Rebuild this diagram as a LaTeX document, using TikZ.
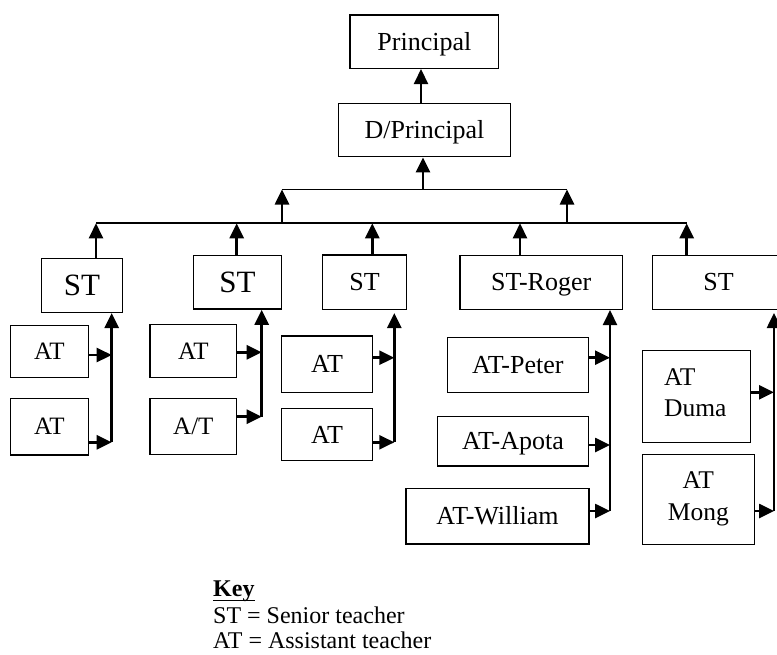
\documentclass[tikz,border=0pt]{standalone}
\usepackage{fontspec}
\setmainfont{Liberation Serif}
\usetikzlibrary{arrows.meta}

\tikzset{
  box/.style={draw, line width=1.5pt, inner sep=0pt, align=center},
  f26/.style={font=\fontsize{26}{31}\selectfont, text height=17pt, text depth=0pt},
  f25/.style={font=\fontsize{25}{30}\selectfont, text height=16.4pt, text depth=0pt},
  f31/.style={font=\fontsize{31}{37}\selectfont, text height=20.3pt, text depth=0pt},
  twoline/.style={inner sep=0pt, font=\fontsize{25.5}{31.7}\selectfont},
  keytxt/.style={inner sep=0pt, anchor=base west, font=\fontsize{24}{28}\selectfont},
  arr/.style={line width=2.6pt, -{Triangle[length=15pt,width=14pt]}},
  hbar/.style={line width=1.8pt},
}

\begin{document}
\begin{tikzpicture}[x=1pt,y=-1pt]
\clip (0,0) rectangle (777,654);

% head of school
\node[box,f26,minimum width=148.7,minimum height=53.3] (p)  at (424.35,41.65) {Principal};
\node[box,f26,minimum width=172.4,minimum height=53.4] (dp) at (424.5,130) {D/Principal};

% senior teachers
\node[box,f31,minimum width=80.6,minimum height=54]   (st1) at (82,285.3)     {ST};
\node[box,f31,minimum width=88.2,minimum height=53.3] (st2) at (237.4,282.35) {ST};
\node[box,f26,minimum width=84.4,minimum height=54.3] (st3) at (364.5,282.15) {ST};
\node[box,f26,minimum width=162.3,minimum height=54]  (st4) at (541.15,282.3) {ST-Roger};
\node[box,f26,minimum width=132.7,minimum height=54]  (st5) at (718.65,282.3) {ST};

% assistant teachers
\node[box,f25,minimum width=78,minimum height=51.6]   (a11) at (49.3,351.5)   {AT};
\node[box,f25,minimum width=78,minimum height=56.7]   (a12) at (49.3,426.65)  {AT};
\node[box,f25,minimum width=86.7,minimum height=53]   (a21) at (193.35,350.8) {AT};
\node[box,f25,minimum width=86.7,minimum height=56]   (a22) at (193.35,426.3) {A/T};
\node[box,f26,minimum width=90.6,minimum height=56.3] (a31) at (327,364.15)   {AT};
\node[box,f26,minimum width=90.6,minimum height=52.4] (a32) at (327,434.5)    {AT};
\node[box,f26,minimum width=141,minimum height=55]    (a41) at (517.8,364.8)  {AT-Peter};
\node[box,f26,minimum width=150.6,minimum height=49.3](a42) at (513,441.35)   {AT-Apota};
\node[box,f26,minimum width=183,minimum height=55.7]  (a43) at (497.5,516.15) {AT-William};
\node[box,minimum width=108.4,minimum height=91.6]    (a51) at (696.5,396.5)  {};
\node[twoline,anchor=north west,align=left] (a51t) at (664,368.2) {AT\\Duma};
\node[box,minimum width=112,minimum height=90]        (a52) at (698.3,499.3)  {};
\node[twoline,anchor=north,align=center] (a52t) at (698.3,471.4) {AT\\Mong};

% reporting lines up to the head
\coordinate (upL) at (282,189.5);
\coordinate (upM) at (423,189.5);
\coordinate (upR) at (567,189.5);
\coordinate (loL) at (96,223.3);
\coordinate (loR) at (686.7,223.3);
\draw[hbar] (upL) -- (upR);
\draw[hbar] (loL) -- (loR);
\draw[arr] (upM) -- (upM |- dp.south);
\draw[arr] (dp.north -| 421,0) -- (p.south -| 421,0);
\draw[arr] (upL |- loL) -- (upL);
\draw[arr] (upR |- loL) -- (upR);

% senior teachers to the lower bar
\coordinate (t1) at (96,223.3);
\coordinate (t2) at (236.7,223.3);
\coordinate (t3) at (372.3,223.3);
\coordinate (t4) at (520,223.3);
\coordinate (t5) at (686.7,223.3);
\draw[arr] (t1 |- st1.north) -- (t1);
\draw[arr] (t2 |- st2.north) -- (t2);
\draw[arr] (t3 |- st3.north) -- (t3);
\draw[arr] (t4 |- st4.north) -- (t4);
\draw[arr] (t5 |- st5.north) -- (t5);

% column 1
\coordinate (c1a) at (111.7,355);
\coordinate (c1b) at (111.7,442.3);
\draw[arr] (c1b) -- (c1b |- st1.south);
\draw[arr] (a11.east |- c1a) -- (c1a);
\draw[arr] (a12.east |- c1b) -- (c1b);

% column 2
\coordinate (c2a) at (261.7,352.3);
\coordinate (c2b) at (261.7,416.7);
\draw[arr] (c2b) -- (c2b |- st2.south);
\draw[arr] (a21.east |- c2a) -- (c2a);
\draw[arr] (a22.east |- c2b) -- (c2b);

% column 3
\coordinate (c3a) at (394.3,357.7);
\coordinate (c3b) at (394.3,442.3);
\coordinate (c3t) at (394.3,313);
\draw[arr] (c3b) -- (c3t);
\draw[arr] (a31.east |- c3a) -- (c3a);
\draw[arr] (a32.east |- c3b) -- (c3b);

% column 4
\coordinate (c4a) at (610,357.7);
\coordinate (c4b) at (610,445);
\coordinate (c4c) at (610,511);
\draw[arr] (c4c) -- (c4c |- st4.south);
\draw[arr] (a41.east |- c4a) -- (c4a);
\draw[arr] (a42.east |- c4b) -- (c4b);
\draw[arr] (a43.east |- c4c) -- (c4c);

% column 5
\coordinate (c5a) at (774,392.3);
\coordinate (c5b) at (774,511);
\coordinate (c5t) at (774,313);
\draw[arr] (c5b) -- (c5t);
\draw[arr] (a51.east |- c5a) -- (c5a);
\draw[arr] (a52.east |- c5b) -- (c5b);

% key
\node[keytxt,font=\fontsize{24}{28}\selectfont\bfseries] (key) at (213,596) {Key};
\draw[line width=1.2pt] ([yshift=-4.7pt]key.base west) -- ([yshift=-4.7pt]key.base east);
\node[keytxt] (k1) at (213,623) {ST = Senior teacher};
\node[keytxt] (k2) at (213,648) {AT = Assistant teacher};
\end{tikzpicture}
\end{document}
